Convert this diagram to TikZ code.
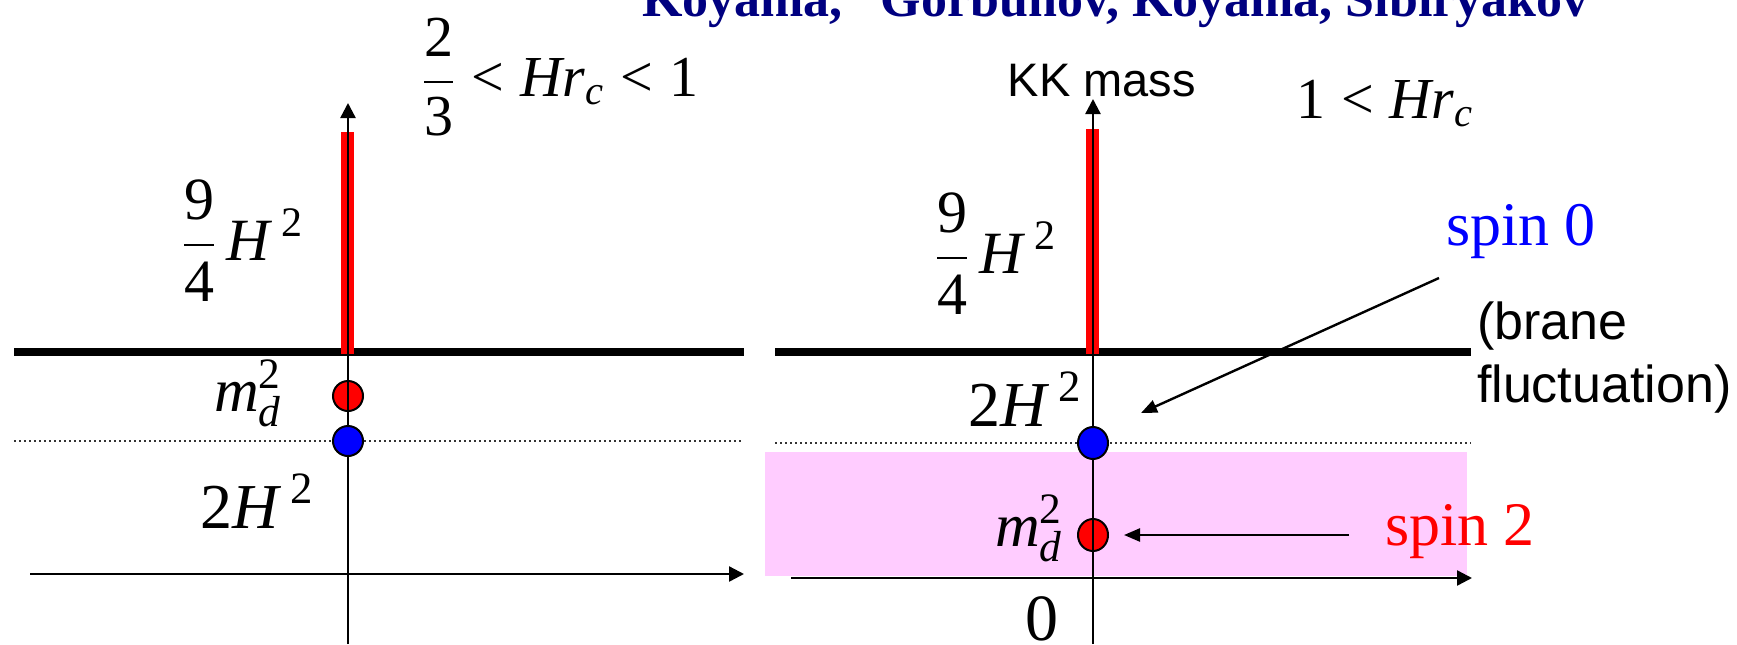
\documentclass[tikz,border=0pt]{standalone}
\usepackage{fix-cm}
\usepackage{amsmath}
\usepackage{fontspec}
\setmainfont{Liberation Serif}
\newfontfamily\arialfont{Liberation Sans}
\usetikzlibrary{arrows.meta,shapes.geometric}
\definecolor{navytitle}{RGB}{0,0,128}
\definecolor{pinkzone}{RGB}{255,204,255}
\definecolor{pred}{RGB}{255,0,0}
\definecolor{pblue}{RGB}{0,0,255}
\begin{document}
\begin{tikzpicture}[x=0.5pt,y=-0.5pt,
  lbl/.style={inner sep=0pt, outer sep=0pt, anchor=base west},
  axisline/.style={line width=1.2pt, -{Triangle[length=7.5pt,width=7.5pt]}},
  thickline/.style={line width=4pt},
  dotline/.style={line width=1pt, dash pattern=on 1pt off 1.5pt, black!80},
  redbar/.style={pred, line width=6.5pt},
  dotL/.style={circle, draw, line width=1pt, minimum size=15pt, inner sep=0pt},
  dotR/.style={ellipse, draw, line width=1pt, minimum width=15pt, minimum height=16pt, inner sep=0pt},
  ptr/.style={line width=1.2pt, -{Triangle[length=8pt,width=6.5pt]}},
  mth/.style={lbl, font=\fontsize{30}{36}\selectfont},
]
\useasboundingbox (0,0) rectangle (1737,644);

% pink zone
\fill[pinkzone] (765,452) rectangle (1467,576);

% ---------- left panel ----------
\coordinate (tkLa) at (14,352);   \coordinate (tkLb) at (744,352);
\coordinate (dtLa) at (14,441);   \coordinate (dtLb) at (742,441);
\coordinate (hxLa) at (30,574);   \coordinate (hxLb) at (744,574);
\coordinate (rbLb) at (347,354);  \coordinate (rbLt) at (347,132);
\coordinate (axLb) at (348,644);  \coordinate (axLt) at (348,103);

\draw[thickline] (tkLa) -- (tkLb);
\draw[dotline] (dtLa) -- (dtLb);
\draw[axisline] (hxLa) -- (hxLb);
\draw[redbar] (rbLb) -- (rbLt);
\node[dotL, fill=pred] (rdL) at (348,396) {};
\draw[axisline] (axLb) -- (axLt);
\node[dotL, fill=pblue] (bdL) at (348,441) {};

% ---------- right panel ----------
\coordinate (tkRa) at (775,352);  \coordinate (tkRb) at (1471,352);
\coordinate (dtRa) at (775,443);  \coordinate (dtRb) at (1471,443);
\coordinate (hxRa) at (791,578);  \coordinate (hxRb) at (1472,578);
\coordinate (rbRb) at (1092,354); \coordinate (rbRt) at (1092,129);
\coordinate (axRb) at (1093,644); \coordinate (axRt) at (1093,99);

\draw[thickline] (tkRa) -- (tkRb);
\draw[dotline] (dtRa) -- (dtRb);
\draw[axisline] (hxRa) -- (hxRb);
\draw[redbar] (rbRb) -- (rbRt);
\node[dotR, fill=pred] (rdR) at (1093,535) {};
\draw[axisline] (axRb) -- (axRt);
\node[dotR, fill=pblue] (bdR) at (1093,443) {};

% pointers
\coordinate (s0a) at (1439,278); \coordinate (s0b) at (1141,413);
\draw[ptr] (s0a) -- (s0b);
\coordinate (s2a) at (1349,535); \coordinate (s2b) at (1124,535);
\draw[ptr] (s2a) -- (s2b);

% ---------- texts ----------
\node[lbl, font=\fontsize{26}{30}\selectfont\bfseries, text=navytitle] (title) at (642,16)
  {Koyama,\hspace{19pt}Gorbunov, Koyama, Sibiryakov};

\node[mth, font=\fontsize{29}{35}\selectfont] (condL) at (422,96)
  {$\dfrac{\text{2}}{\text{3}}\mathrel{\text{<}}\textit{Hr}_{\textit{c}}\mathrel{\text{<}}\text{1}$};
\node[mth] (nineL) at (182,260)
  {$\dfrac{\text{9}}{\text{4}}\,\textit{H}^{\;\text{2}}$};
\node[lbl, font=\fontsize{31}{36}\selectfont] (mdL) at (214,411)
  {$\textit{m}_{\textit{d}}^{\text{2}}$};
\node[lbl, font=\fontsize{32}{38}\selectfont] (twoL) at (200,528)
  {$\text{2}\textit{H}^{\;\text{2}}$};

\node[anchor=base, inner sep=0pt, font=\arialfont\fontsize{23.5}{28}\selectfont] (kk) at (1102,96) {KK mass};
\node[mth, font=\fontsize{29}{35}\selectfont] (condR) at (1296,118)
  {$\text{1}\mathrel{\text{<}}\textit{Hr}_{\textit{c}}$};
\node[mth] (nineR) at (935,273)
  {$\dfrac{\text{9}}{\text{4}}\,\textit{H}^{\;\text{2}}$};
\node[lbl, font=\fontsize{32}{38}\selectfont] (twoR) at (968,426)
  {$\text{2}\textit{H}^{\;\text{2}}$};
\node[lbl, font=\fontsize{31}{36}\selectfont] (mdR) at (995,546)
  {$\textit{m}_{\textit{d}}^{\text{2}}$};
\node[anchor=base, inner sep=0pt, font=\fontsize{33}{38}\selectfont] (zero) at (1042,640) {0};

\node[lbl, font=\fontsize{31}{36}\selectfont, text=pblue] (spin0) at (1446,245) {spin 0};
\node[lbl, font=\fontsize{31}{36}\selectfont, text=pred] (spin2) at (1385,545) {spin 2};
\node[lbl, align=left, font=\arialfont\fontsize{26}{31.5}\selectfont] (brane) at (1477,402)
  {(brane\\fluctuation)};
\end{tikzpicture}
\end{document}
